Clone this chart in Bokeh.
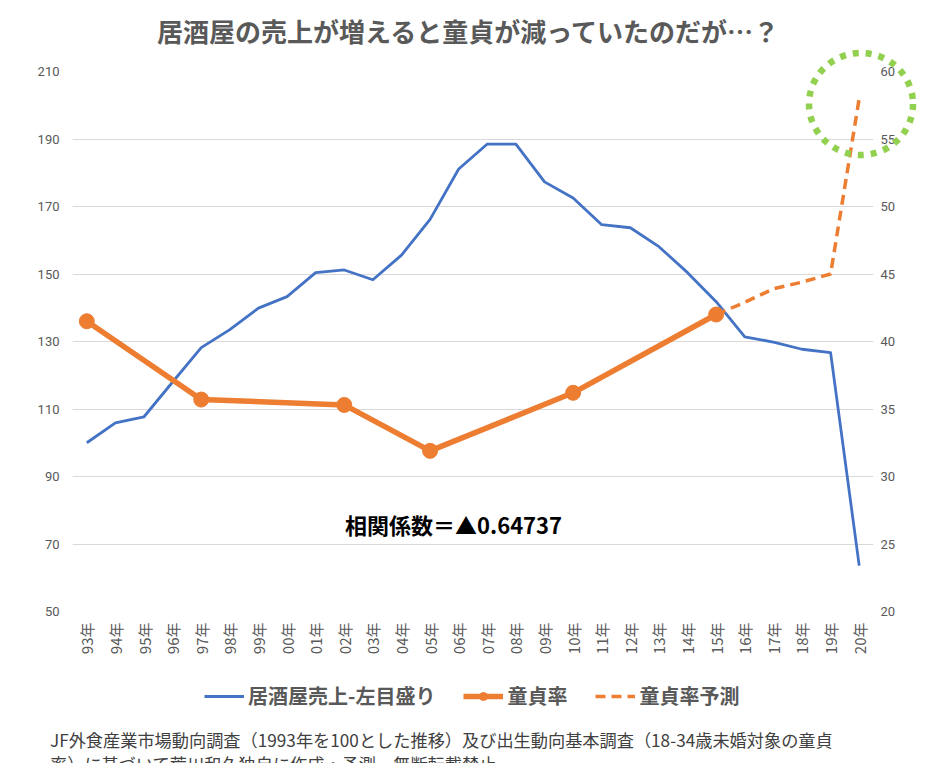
import numpy as np
from bokeh.plotting import figure
from bokeh.layouts import column
from bokeh.models import (Range1d, LinearAxis, FixedTicker, Label, Legend, LegendItem,
                          FactorRange, Div)
from bokeh.embed import file_html
from bokeh.resources import INLINE

# ---------------- data ----------------
years = ["93年", "94年", "95年", "96年", "97年", "98年", "99年", "00年", "01年", "02年",
         "03年", "04年", "05年", "06年", "07年", "08年", "09年", "10年", "11年", "12年",
         "13年", "14年", "15年", "16年", "17年", "18年", "19年", "20年"]
sales = [100.0, 105.9, 107.7, 118.0, 128.2, 133.5, 139.9, 143.3, 150.4, 151.2,
         148.3, 155.6, 166.2, 181.1, 188.5, 188.5, 177.3, 172.5, 164.6, 163.7,
         158.1, 150.4, 141.8, 131.4, 129.8, 127.7, 126.7, 63.6]
virgin_years = ["93年", "97年", "02年", "05年", "10年", "15年"]
virgin_rate = [41.5, 35.7, 35.3, 31.9, 36.2, 42.0]
forecast_years = ["15年", "16年", "17年", "18年", "19年", "20年"]
forecast_rate = [42.0, 42.9, 43.9, 44.4, 45.0, 58.0]
left_ticks = [50, 70, 90, 110, 130, 150, 170, 190, 210]
right_ticks = [20, 25, 30, 35, 40, 45, 50, 55, 60]

title_text = "居酒屋の売上が増えると童貞が減っていたのだが…？"
corr_text = "相関係数＝▲0.64737"
note1 = "JF外食産業市場動向調査（1993年を100とした推移）及び出生動向基本調査（18-34歳未婚対象の童貞"
note2 = "率）に基づいて荒川和久独自に作成・予測。無断転載禁止。"
legend_labels = ["居酒屋売上-左目盛り", "童貞率", "童貞率予測"]

FONT = "Noto Sans CJK JP"
GRAY = "#595959"
BLUE = "#4472C4"
ORANGE = "#ED7D31"
GREEN = "#92D050"

W, H = 944, 763
TOP_H = 50          # title strip
LEG_H = 50          # legend strip
BOT_H = 37          # footnote strip
FIG_H = H - TOP_H - LEG_H - BOT_H   # main chart
FRAME_TOP, FRAME_BOTTOM = 71, 611   # page pixels

head = Div(text=(f'<div style="position:relative;top:13px;width:{W - 8}px;text-align:center;'
                 f'font-family:\'Noto Sans CJK JP\';font-size:26px;font-weight:bold;'
                 f'line-height:36px;color:{GRAY};white-space:nowrap">{title_text}</div>'),
           width=W, height=TOP_H, margin=0, styles={"overflow": "hidden"})

p = figure(width=W, height=FIG_H, x_range=FactorRange(*years), y_range=Range1d(50, 210),
           output_backend="svg", toolbar_location=None,
           min_border_left=72, min_border_right=71, min_border_top=FRAME_TOP - TOP_H,
           min_border_bottom=TOP_H + FIG_H - FRAME_BOTTOM)
p.outline_line_color = None
p.border_fill_color = "white"
p.extra_y_ranges = {"r": Range1d(20, 60)}

# left axis
ly = p.yaxis[0]
ly.ticker = FixedTicker(ticks=left_ticks)
ly.axis_line_color = None
ly.major_tick_line_color = None
ly.minor_tick_line_color = None
ly.major_tick_out = 0
ly.major_label_text_font = "Roboto"
ly.major_label_text_font_size = "13px"
ly.major_label_text_color = GRAY
ly.major_label_standoff = 13

ry = LinearAxis(y_range_name="r", ticker=FixedTicker(ticks=right_ticks))
ry.axis_line_color = None
ry.major_tick_line_color = None
ry.minor_tick_line_color = None
ry.major_tick_out = 0
ry.major_label_text_font = "Roboto"
ry.major_label_text_font_size = "13px"
ry.major_label_text_color = GRAY
ry.major_label_standoff = 7
p.add_layout(ry, "right")

xa = p.xaxis[0]
xa.axis_line_color = None
xa.major_tick_line_color = None
xa.minor_tick_line_color = None
xa.major_tick_out = 0
xa.major_tick_in = 0
xa.major_label_orientation = np.pi / 2
xa.major_label_text_font = FONT
xa.major_label_text_font_size = "15px"
xa.major_label_text_color = GRAY
xa.major_label_standoff = 11

p.xgrid.grid_line_color = None
p.ygrid.ticker = FixedTicker(ticks=left_ticks)
p.ygrid.grid_line_color = "#D9D9D9"
p.ygrid.grid_line_width = 1

# series
blue_kw = dict(line_color=BLUE, line_width=2.8, line_join="round")
or_kw = dict(line_color=ORANGE, line_width=5.5, line_join="round")
pt_kw = dict(marker="circle", size=15, fill_color=ORANGE, line_color=ORANGE)
dash_kw = dict(line_color=ORANGE, line_width=3.5, line_dash="10 6")

p.line(years, sales, **blue_kw)
p.line(virgin_years, virgin_rate, y_range_name="r", **or_kw)
p.scatter(virgin_years, virgin_rate, y_range_name="r", **pt_kw)
p.line(forecast_years, forecast_rate, y_range_name="r", **dash_kw)

# correlation note
p.add_layout(Label(x=13.32, y=76, text=corr_text, text_font=FONT, text_font_size="22px",
                   text_font_style="bold", text_color="black", text_align="center",
                   text_baseline="middle"))

# legend strip (own small plot; same series, hidden, only feeding the legend)
lf = figure(width=W, height=LEG_H, x_range=FactorRange(*years), y_range=Range1d(20, 210),
            x_axis_type=None, y_axis_type=None, output_backend="svg", toolbar_location=None,
            min_border=0)
lf.outline_line_color = None
lf.border_fill_color = "white"
lb = lf.line(years, sales, visible=False, **blue_kw)
lo = lf.line(virgin_years, virgin_rate, visible=False, **or_kw)
lp = lf.scatter(virgin_years, virgin_rate, visible=False, **pt_kw)
ld = lf.line(forecast_years, forecast_rate, visible=False, **dash_kw)
legend = Legend(items=[LegendItem(label=legend_labels[0], renderers=[lb]),
                       LegendItem(label=legend_labels[1], renderers=[lo, lp]),
                       LegendItem(label=legend_labels[2], renderers=[ld])],
                orientation="horizontal", location=(132, 16), click_policy="none",
                label_text_font=FONT, label_text_font_size="20px", label_text_font_style="bold",
                label_text_color=GRAY, glyph_width=40, glyph_height=20, label_height=20,
                label_standoff=4, spacing=28, padding=0, margin=0,
                border_line_color=None, background_fill_alpha=0)
lf.add_layout(legend, "center")

# footnote strip, plus the green dotted highlight ring drawn over the 2020 forecast
ring = (f'<div style="position:relative;height:0;overflow:visible">'
        f'<svg style="position:absolute;left:805px;top:{50 - (H - BOT_H)}px;overflow:visible" '
        f'width="112" height="110"><ellipse cx="56" cy="54" rx="52" ry="51" fill="none" '
        f'stroke="{GREEN}" stroke-width="6.5" stroke-dasharray="6 7"/></svg></div>')
note = Div(text=(ring +
                 f'<div style="height:{BOT_H}px;overflow:hidden;padding-left:50px;'
                 f'font-family:\'Noto Sans CJK JP\';font-size:17.2px;color:#404040">'
                 f'<div style="height:27px;line-height:27px;white-space:nowrap">{note1}</div>'
                 f'<div style="height:22px;line-height:22px;white-space:nowrap">{note2}</div>'
                 f'</div>'),
           width=W, height=BOT_H, margin=0, styles={"overflow": "visible"})

layout = column(head, p, lf, note, spacing=0, margin=0)
open("out.html", "w").write(file_html(layout, INLINE))
